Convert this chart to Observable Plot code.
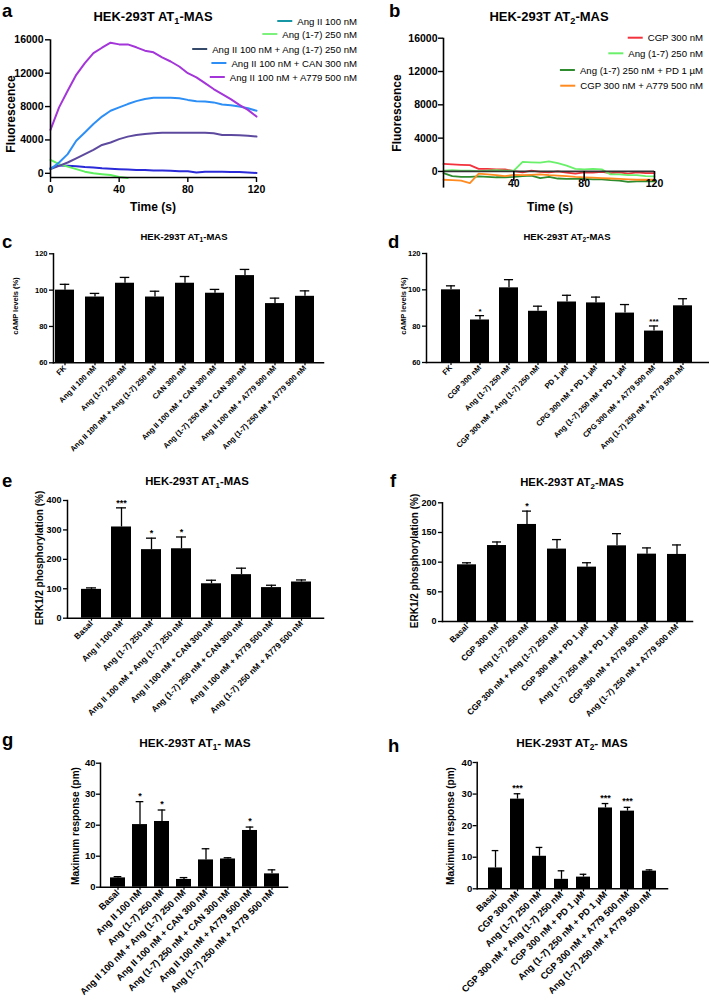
<!DOCTYPE html>
<html><head><meta charset="utf-8">
<script src="https://cdn.jsdelivr.net/npm/d3@7"></script>
<script src="https://cdn.jsdelivr.net/npm/@observablehq/plot@0.6"></script>
<style>
html,body{margin:0;padding:0;background:#fff;}
#fig{position:relative;width:709px;height:1005px;overflow:hidden;background:#fff;}
#fig svg{position:absolute;}
</style></head><body><div id="fig"></div>
<script>
const FONT = '"Liberation Sans", Arial, Helvetica, sans-serif';

// ---------- Panel a : time course, AT1-MAS ----------
const timeA = [0,5,10,15,20,25,30,35,40,45,50,55,60,65,70,75,80,85,90,95,100,105,110,115,120];
const seriesA = ["Ang II 100 nM","Ang (1-7) 250 nM","Ang II 100 nM + Ang (1-7) 250 nM","Ang II 100 nM + CAN 300 nM","Ang II 100 nM + A779 500 nM"];
const angIIA = [600,950,900,850,750,700,600,550,500,450,400,400,350,350,300,250,250,100,200,200,200,150,150,100,50];
const ang17A = [1600,1100,800,500,200,0,-100,-200,-450,-550];
const angIIAng17A = [500,900,1300,1800,2300,2800,3400,3700,4100,4400,4600,4700,4800,4850,4850,4850,4850,4850,4850,4800,4600,4600,4550,4500,4400];
const angIICanA = [500,1300,2300,3900,4900,5900,6800,7500,7900,8300,8650,8900,9050,9050,9050,9000,8800,8650,8600,8500,8250,8150,8000,7800,7500];
const angIIA779A = [5200,7900,9900,11800,13200,14400,15050,15650,15450,15450,15100,14700,14500,13900,13400,12800,12000,11500,10800,10100,9500,8900,8200,7600,6800];
const lineColorsA = ["#2a2ad8","#5ef05e","#5d4a9f","#2d8ff5","#a335d9"];
const legendColorsA = ["#1797a6","#7cf27c","#35496b","#2d8ff5","#a335d9"];
const yDomainA = [-500,16000];
const yTicksA = [0,4000,8000,12000,16000];
const xTicksA = [0,40,80,120];

// ---------- Panel b : time course, AT2-MAS ----------
const timeB = timeA;
const seriesB = ["CGP 300 nM","Ang (1-7) 250 nM","Ang (1-7) 250 nM + PD 1 µM","CGP 300 nM + A779 500 nM"];
const cgpB = [900,850,800,750,300,300,250,250,50,-100,100,-50,-100,0,-150,-250,-100,-150,-50,-200,-100,-250,-100,-200,-200];
const ang17B = [100,150,100,100,50,100,150,100,100,1150,1100,1050,1200,1000,700,300,250,300,250,-350,-350,-450,-450,-550,-600];
const ang17PdB = [-200,-550,-650,-650,-600,-650,-700,-700,-650,-550,-500,-800,-650,-850,-900,-900,-900,-950,-950,-1050,-1100,-1250,-1200,-1150,-1200];
const cgpA779B = [-1000,-1050,-1100,-1400,-250,-350,-450,-550,-400,-450,-400,-350,-450,-500,-550,-650,-700,-750,-800,-850,-900,-950,-1000,-1000,-1000];
const colorsB = ["#f2323c","#6af06a","#2e8b2e","#ff8a1f"];
const yDomainB = [-2000,16000];
const yTicksB = [0,4000,8000,12000,16000];
const xTicksB = [40,80,120];

// ---------- Panel c : cAMP AT1-MAS ----------
const catsC = ["FK","Ang II 100 nM","Ang (1-7) 250 nM","Ang II 100 nM + Ang (1-7) 250 nM","CAN 300 nM","Ang II 100 nM + CAN 300 nM","Ang (1-7) 250 nM + CAN 300 nM","Ang II 100 nM + A779 500 nM","Ang (1-7) 250 nM + A779 500 nM"];
const valsC = [100,96.2,103.8,96.2,103.8,98.3,108,92.6,96.6];
const errsC = [103.2,98.2,107,99.4,107.5,100.4,111.4,95.6,99.6];
const starsC = ["","","","","","","","",""];

// ---------- Panel d : cAMP AT2-MAS ----------
const catsD = ["FK","CGP 300 nM","Ang (1-7) 250 nM","CGP 300 nM + Ang (1-7) 250 nM","PD 1 µM","CPG 300 nM + PD 1 µM","Ang (1-7) 250 nM + PD 1 µM","CPG 300 nM + A779 500 nM","Ang (1-7) 250 nM + A779 500 nM"];
const valsD = [100,83.4,101.1,88.2,93.3,92.8,87.2,77.3,91.2];
const errsD = [102.2,85.8,105.6,91,97,96,91.9,80.1,95.1];
const starsD = ["","*","","","","","","***",""];
const yDomainCAMP = [60,120];
const yTicksCAMP = [60,80,100,120];

// ---------- Panel e : ERK AT1-MAS ----------
const catsE = ["Basal","Ang II 100 nM","Ang (1-7) 250 nM","Ang II 100 nM + Ang (1-7) 250 nM","Ang II 100 nM + CAN 300 nM","Ang (1-7) 250 nM + CAN 300 nM","Ang II 100 nM + A779 500 nM","Ang (1-7) 250 nM + A779 500 nM"];
const valsE = [98,310,233,236,117,148,104,123];
const errsE = [103,375,272,276,129,170,112,130];
const starsE = ["","***","*","*","","","",""];
const yDomainE = [0,400];
const yTicksE = [0,100,200,300,400];

// ---------- Panel f : ERK AT2-MAS ----------
const catsF = ["Basal","CGP 300 nM","Ang (1-7) 250 nM","CGP 300 nM + Ang (1-7) 250 nM","CGP 300 nM + PD 1 µM","Ang (1-7) 250 nM + PD 1 µM","CGP 300 nM + A779 500 nM","Ang (1-7) 250 nM + A779 500 nM"];
const valsF = [95.5,128,163.5,122,91.6,127.5,113.5,113];
const errsF = [98.9,134,186,138,99,148,124,129];
const starsF = ["","","*","","","","",""];
const yDomainF = [0,200];
const yTicksF = [0,50,100,150,200];

// ---------- Panel g : max response AT1-MAS ----------
const catsG = catsE;
const valsG = [3.0,20.2,21.2,2.5,8.8,9.1,18.3,4.3];
const errsG = [3.4,27.6,24.9,3.1,12.4,9.5,19.4,5.6];
const starsG = ["","*","*","","","","*",""];

// ---------- Panel h : max response AT2-MAS ----------
const catsH = catsF;
const valsH = [6.6,28.4,10.3,3.0,3.7,25.6,24.6,5.6];
const errsH = [12.1,30.1,13.1,5.7,4.6,27.0,25.8,6.0];
const starsH = ["","***","","","","***","***",""];
const yDomainGH = [0,40];
const yTicksGH = [0,10,20,30,40];

// ---------- text ----------
const panelLetters = ["a","b","c","d","e","f","g","h"];
const yTitles = ["Fluorescence","Fluorescence","cAMP levels (%)","cAMP levels (%)","ERK1/2 phosphorylation (%)","ERK1/2 phosphorylation (%)","Maximum response (pm)","Maximum response (pm)"];
const xTitle = "Time (s)";
const titleParts = [["HEK-293T AT","1","-MAS"],["HEK-293T AT","2","-MAS"],["HEK-293T AT","1","-MAS"],["HEK-293T AT","2","-MAS"],["HEK-293T AT","1","-MAS"],["HEK-293T AT","2","-MAS"],["HEK-293T AT","1","- MAS"],["HEK-293T AT","2","- MAS"]];

const fig = document.getElementById("fig");
function place(svg, left, top){ svg.style.left = left+"px"; svg.style.top = top+"px"; fig.appendChild(svg); }
const baseStyle = {fontFamily: FONT, fontWeight: "bold", background: "transparent", overflow: "visible", color: "black"};
const plain = d => String(d);

// ---- line panels ----
function longData(series, time, arrays){
  const out = [];
  series.forEach((s,i)=>arrays[i].forEach((v,j)=>out.push({series:s, t:time[j], v})));
  return out;
}
const dataA = longData(seriesA, timeA, [angIIA, ang17A, angIIAng17A, angIICanA, angIIA779A]);
const plotA = Plot.plot({
  width:265, height:180, marginLeft:50, marginRight:9, marginTop:9.3, marginBottom:33,
  x:{domain:[0,120], label:null}, y:{domain:yDomainA, label:null},
  color:{domain:seriesA, range:lineColorsA},
  style:{...baseStyle, fontSize:"10.5px"},
  marks:[
    Plot.line(dataA, {x:"t", y:"v", z:"series", stroke:"series", strokeWidth:2}),
    Plot.ruleX([0], {strokeWidth:1.6}),
    Plot.ruleY([yDomainA[0]], {strokeWidth:1.6}),
    Plot.axisY({ticks:yTicksA, tickFormat:plain, tickSize:5, tickPadding:2, strokeWidth:1.4}),
    Plot.axisX({ticks:xTicksA, tickFormat:plain, tickSize:5, tickPadding:3, strokeWidth:1.4})
  ]
});
place(plotA, 0, 30);

const dataB = longData(seriesB, timeB, [cgpB, ang17B, ang17PdB, cgpA779B]);
const plotB = Plot.plot({
  width:275, height:182, marginLeft:53, marginRight:11, marginTop:9.7, marginBottom:22.4,
  x:{domain:[0,120], label:null}, y:{domain:yDomainB, label:null},
  color:{domain:seriesB, range:colorsB},
  style:{...baseStyle, fontSize:"10.5px"},
  marks:[
    Plot.line(dataB, {x:"t", y:"v", z:"series", stroke:"series", strokeWidth:1.8}),
    Plot.ruleY([0], {strokeWidth:1.8, stroke:"#333"}),
    Plot.ruleX(xTicksB, {x:d=>d, y1:0, y2:-1200, strokeWidth:1.6}),
    Plot.ruleX([0], {strokeWidth:1.6}),
    Plot.axisY({ticks:yTicksB, tickFormat:plain, tickSize:5, tickPadding:1, strokeWidth:1.4}),
    Plot.axisX({ticks:xTicksB, tickFormat:plain, tickSize:0, tickPadding:-9})
  ]
});
place(plotB, 390, 28);

// ---- bar panels ----
function barPanel(o){
  const data = o.cats.map((c,i)=>({cat:c, val:o.vals[i], err:o.errs[i], star:o.stars[i]}));
  const bw = (o.bx1-o.bx0)/(o.cats.length - o.pad)*(1-o.pad);
  const p = Plot.plot({
    width:o.w, height:o.h,
    marginLeft:o.fx0-o.left, marginRight:o.left+o.w-o.fx1, marginTop:o.fy0-o.top, marginBottom:o.top+o.h-o.fy1,
    x:{type:"band", domain:o.cats, range:[o.bx0-o.left, o.bx1-o.left], paddingInner:o.pad, paddingOuter:0, label:null},
    y:{domain:o.yDomain, label:null},
    style:{...baseStyle, fontSize:o.tickFont+"px"},
    marks:[
      Plot.ruleX(data, {x:"cat", y1:"val", y2:"err", strokeWidth:1.3}),
      Plot.tickY(data, {x:"cat", y:"err", insetLeft:bw*0.25, insetRight:bw*0.25, strokeWidth:1.3}),
      Plot.barY(data, {x:"cat", y1:o.yDomain[0], y2:"val", fill:"black"}),
      Plot.text(data.filter(d=>d.star), {x:"cat", y:"err", text:"star", dy:o.starDy, lineAnchor:"bottom", fontSize:o.starFont}),
      Plot.frame({anchor:"left", strokeWidth:1.5}),
      Plot.frame({anchor:"bottom", strokeWidth:1.5}),
      Plot.axisY({ticks:o.yTicks, tickFormat:plain, tickSize:4, tickPadding:o.tickPad, strokeWidth:1.3}),
      Plot.axisX({tickRotate:-45, tickSize:3, tickPadding:1, fontSize:o.labFont, strokeWidth:1.2})
    ]
  });
  place(p, o.left, o.top);
}

barPanel({cats:catsC, vals:valsC, errs:errsC, stars:starsC, left:0, top:240, w:330, h:230,
  fx0:53, fx1:323, fy0:253.3, fy1:362.3, bx0:55, bx1:314, pad:0.367,
  yDomain:yDomainCAMP, yTicks:yTicksCAMP, tickFont:7.5, tickPad:2, labFont:7.6, starFont:8, starDy:-2});
barPanel({cats:catsD, vals:valsD, errs:errsD, stars:starsD, left:360, top:240, w:349, h:230,
  fx0:426, fx1:708, fy0:253, fy1:362, bx0:437, bx1:696.5, pad:0.34,
  yDomain:yDomainCAMP, yTicks:yTicksCAMP, tickFont:7.5, tickPad:2, labFont:7.6, starFont:8, starDy:-2});
barPanel({cats:catsE, vals:valsE, errs:errsE, stars:starsE, left:0, top:485, w:330, h:240,
  fx0:67, fx1:323, fy0:500, fy1:617.7, bx0:79, bx1:313, pad:0.346,
  yDomain:yDomainE, yTicks:yTicksE, tickFont:9, tickPad:2, labFont:8.4, starFont:9, starDy:-2});
barPanel({cats:catsF, vals:valsF, errs:errsF, stars:starsF, left:360, top:485, w:340, h:240,
  fx0:442, fx1:692, fy0:502.3, fy1:621, bx0:453.3, bx1:690, pad:0.354,
  yDomain:yDomainF, yTicks:yTicksF, tickFont:9, tickPad:2, labFont:8.4, starFont:9, starDy:-2});
barPanel({cats:catsG, vals:valsG, errs:errsG, stars:starsG, left:0, top:750, w:300, h:255,
  fx0:100, fx1:287, fy0:762.7, fy1:886.7, bx0:109.3, bx1:280, pad:0.34,
  yDomain:yDomainGH, yTicks:yTicksGH, tickFont:9.5, tickPad:1, labFont:9.3, starFont:9, starDy:-3});
barPanel({cats:catsH, vals:valsH, errs:errsH, stars:starsH, left:360, top:750, w:320, h:255,
  fx0:476.7, fx1:667, fy0:762, fy1:888.3, bx0:485, bx1:659, pad:0.354,
  yDomain:yDomainGH, yTicks:yTicksGH, tickFont:9.5, tickPad:1, labFont:9.3, starFont:9, starDy:-3});

// ---- annotations overlay ----
const ann = d3.select(fig).append("svg").attr("width",709).attr("height",1005)
  .style("left","0px").style("top","0px").style("overflow","visible")
  .attr("font-family",FONT).attr("font-weight","bold").attr("fill","black");

const letterPos = [[2,17],[389,17],[2,248],[388,248],[2,487],[390,487],[2,746],[388,752]];
panelLetters.forEach((l,i)=>ann.append("text").attr("x",letterPos[i][0]).attr("y",letterPos[i][1]).attr("font-size",18.5).text(l));

const titlePos = [[153,21,13],[549,21,13],[184,240,9.5],[567,240,9.5],[197,485,11.3],[572,486,11.3],[195,747,11.8],[572,747,11.8]];
titleParts.forEach((parts,i)=>{
  const [x,y,fs] = titlePos[i];
  const t = ann.append("text").attr("x",x).attr("y",y).attr("font-size",fs).attr("text-anchor","middle");
  t.append("tspan").text(parts[0]);
  t.append("tspan").attr("font-size",fs*0.7).attr("dy",fs*0.25).text(parts[1]);
  t.append("tspan").attr("dy",-fs*0.25).text(parts[2]);
});

const yTitlePos = [[11,114,12],[397,113,12],[15,306,7.5],[403,306,7.5],[39.5,558,10],[414,561,10],[75,826,10],[450,826,10]];
yTitles.forEach((s,i)=>{
  const [x,y,fs] = yTitlePos[i];
  ann.append("text").attr("transform",`translate(${x},${y}) rotate(-90)`).attr("text-anchor","middle")
    .attr("dominant-baseline","central").attr("font-size",fs).text(s);
});
[[153,207],[550,207]].forEach(([x,y])=>ann.append("text").attr("x",x).attr("y",y).attr("text-anchor","middle")
  .attr("dominant-baseline","central").attr("font-size",12).text(xTitle));

function legend(names, colors, xEnd, ys){
  names.forEach((n,i)=>{
    const t = ann.append("text").attr("x",xEnd).attr("y",ys[i]).attr("text-anchor","end")
      .attr("dominant-baseline","central").attr("font-size",9.6).attr("font-weight","normal").text(n);
    const w = t.node().getComputedTextLength();
    const x1 = xEnd - w - 5;
    ann.append("line").attr("x1",x1-15).attr("x2",x1).attr("y1",ys[i]).attr("y2",ys[i])
      .attr("stroke",colors[i]).attr("stroke-width",2);
  });
}
legend(seriesA, legendColorsA, 357, [21,34,49,63,77]);
legend(seriesB, colorsB, 703, [37.7,53.3,70,85.7]);
</script></body></html>
